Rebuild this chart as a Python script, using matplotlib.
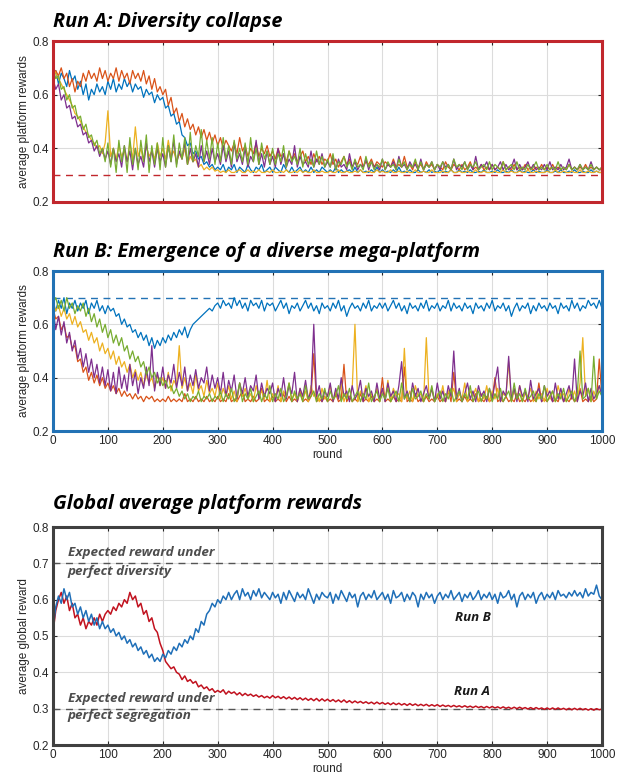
import matplotlib
matplotlib.use("Agg")
import matplotlib.pyplot as plt

# values sampled every 5 rounds (0, 5, ..., 1000)
STEP = 5

# ---------------- Run A (five platforms) ----------------
a_blue = [0.66, 0.69, 0.64, 0.68, 0.66, 0.63, 0.69, 0.65, 0.67, 0.62, 0.65, 0.60, 0.64, 0.58, 0.62, 0.60, 0.64, 0.61, 0.63, 0.60,
          0.65, 0.62, 0.66, 0.61, 0.64, 0.62, 0.66, 0.63, 0.65, 0.61, 0.64, 0.62, 0.63, 0.59, 0.62, 0.60, 0.61, 0.57, 0.60, 0.58,
          0.59, 0.55, 0.56, 0.52, 0.53, 0.49, 0.50, 0.45, 0.44, 0.41, 0.42, 0.38, 0.39, 0.36, 0.37, 0.34, 0.35, 0.33, 0.34, 0.32,
          0.33, 0.32, 0.34, 0.31, 0.33, 0.32, 0.34, 0.31, 0.33, 0.32, 0.31, 0.34, 0.32, 0.31, 0.33, 0.32, 0.34, 0.31, 0.32, 0.33,
          0.31, 0.33, 0.32, 0.31, 0.34, 0.32, 0.31, 0.33, 0.31, 0.32, 0.33, 0.31, 0.32, 0.31, 0.33, 0.31, 0.32, 0.31, 0.33, 0.32,
          0.31, 0.32, 0.31, 0.33, 0.31, 0.32, 0.31, 0.315, 0.32, 0.31, 0.33, 0.31, 0.32, 0.31, 0.315, 0.31, 0.32, 0.31, 0.33, 0.31,
          0.32, 0.31, 0.315, 0.31, 0.32, 0.31, 0.33, 0.31, 0.315, 0.31, 0.32, 0.31, 0.31, 0.32, 0.31, 0.315, 0.31, 0.32, 0.31, 0.315,
          0.31, 0.32, 0.31, 0.315, 0.31, 0.32, 0.31, 0.31, 0.32, 0.31, 0.315, 0.31, 0.32, 0.31, 0.31, 0.315, 0.31, 0.32, 0.31, 0.31,
          0.315, 0.31, 0.32, 0.31, 0.31, 0.315, 0.31, 0.32, 0.31, 0.31, 0.32, 0.31, 0.315, 0.31, 0.31, 0.32, 0.31, 0.315, 0.31, 0.31,
          0.32, 0.31, 0.31, 0.315, 0.31, 0.32, 0.31, 0.31, 0.315, 0.31, 0.32, 0.31, 0.31, 0.315, 0.31, 0.31, 0.32, 0.31, 0.315, 0.31,
          0.31]
a_orange = [0.66, 0.69, 0.67, 0.70, 0.66, 0.68, 0.63, 0.66, 0.61, 0.65, 0.63, 0.68, 0.65, 0.69, 0.66, 0.68, 0.65, 0.70, 0.66, 0.69,
            0.65, 0.68, 0.66, 0.70, 0.65, 0.69, 0.66, 0.68, 0.64, 0.69, 0.66, 0.68, 0.65, 0.69, 0.64, 0.67, 0.62, 0.66, 0.61, 0.63,
            0.60, 0.62, 0.56, 0.59, 0.53, 0.55, 0.50, 0.53, 0.48, 0.51, 0.47, 0.49, 0.45, 0.48, 0.44, 0.47, 0.43, 0.46, 0.42, 0.45,
            0.41, 0.44, 0.40, 0.43, 0.41, 0.39, 0.42, 0.38, 0.44, 0.39, 0.41, 0.37, 0.40, 0.38, 0.42, 0.37, 0.40, 0.38, 0.41, 0.37,
            0.39, 0.36, 0.40, 0.37, 0.38, 0.35, 0.39, 0.36, 0.38, 0.35, 0.37, 0.39, 0.35, 0.37, 0.34, 0.38, 0.35, 0.37, 0.34, 0.36,
            0.35, 0.38, 0.34, 0.36, 0.33, 0.35, 0.37, 0.34, 0.36, 0.33, 0.35, 0.34, 0.37, 0.33, 0.35, 0.34, 0.36, 0.33, 0.35, 0.34,
            0.33, 0.35, 0.34, 0.33, 0.36, 0.33, 0.34, 0.33, 0.37, 0.33, 0.34, 0.32, 0.35, 0.33, 0.34, 0.32, 0.35, 0.33, 0.34, 0.32,
            0.34, 0.33, 0.32, 0.35, 0.33, 0.32, 0.34, 0.33, 0.32, 0.34, 0.32, 0.33, 0.35, 0.32, 0.33, 0.32, 0.34, 0.32, 0.33, 0.32,
            0.34, 0.32, 0.33, 0.32, 0.35, 0.32, 0.33, 0.32, 0.34, 0.32, 0.33, 0.32, 0.34, 0.32, 0.33, 0.32, 0.33, 0.32, 0.34, 0.32,
            0.33, 0.32, 0.34, 0.32, 0.33, 0.32, 0.33, 0.32, 0.34, 0.32, 0.33, 0.32, 0.33, 0.32, 0.34, 0.32, 0.33, 0.32, 0.33, 0.32,
            0.32]
a_yellow = [0.70, 0.68, 0.66, 0.64, 0.62, 0.60, 0.58, 0.56, 0.53, 0.52, 0.50, 0.48, 0.46, 0.45, 0.43, 0.42, 0.40, 0.41, 0.38, 0.42,
            0.54, 0.37, 0.40, 0.36, 0.41, 0.37, 0.39, 0.35, 0.42, 0.36, 0.48, 0.37, 0.40, 0.35, 0.41, 0.37, 0.39, 0.36, 0.42, 0.37,
            0.40, 0.36, 0.43, 0.37, 0.39, 0.35, 0.38, 0.36, 0.40, 0.34, 0.37, 0.35, 0.36, 0.33, 0.34, 0.32, 0.33, 0.32, 0.33, 0.315,
            0.32, 0.31, 0.315, 0.31, 0.32, 0.31, 0.31, 0.315, 0.32, 0.31, 0.31, 0.32, 0.31, 0.315, 0.31, 0.32, 0.31, 0.31, 0.315, 0.31,
            0.32, 0.31, 0.31, 0.315, 0.31, 0.32, 0.31, 0.31, 0.315, 0.31, 0.32, 0.31, 0.315, 0.31, 0.31, 0.32, 0.31, 0.31, 0.315, 0.31,
            0.31, 0.315, 0.31, 0.31, 0.32, 0.31, 0.31, 0.315, 0.31, 0.31, 0.315, 0.31, 0.32, 0.31, 0.31, 0.315, 0.31, 0.31, 0.32, 0.31,
            0.315, 0.31, 0.31, 0.32, 0.31, 0.31, 0.315, 0.31, 0.31, 0.315, 0.31, 0.31, 0.32, 0.31, 0.31, 0.315, 0.31, 0.31, 0.32, 0.31,
            0.31, 0.31, 0.315, 0.31, 0.31, 0.32, 0.31, 0.31, 0.315, 0.31, 0.31, 0.315, 0.31, 0.31, 0.32, 0.31, 0.31, 0.315, 0.31, 0.31,
            0.31, 0.315, 0.31, 0.31, 0.32, 0.31, 0.31, 0.315, 0.31, 0.31, 0.315, 0.31, 0.31, 0.32, 0.31, 0.31, 0.315, 0.31, 0.31, 0.31,
            0.315, 0.31, 0.31, 0.32, 0.31, 0.31, 0.315, 0.31, 0.31, 0.315, 0.31, 0.31, 0.32, 0.31, 0.31, 0.315, 0.31, 0.31, 0.315, 0.31,
            0.31]
a_purple = [0.66, 0.62, 0.64, 0.58, 0.60, 0.55, 0.56, 0.51, 0.52, 0.48, 0.49, 0.45, 0.46, 0.42, 0.43, 0.39, 0.41, 0.37, 0.40, 0.36,
            0.39, 0.34, 0.40, 0.35, 0.38, 0.33, 0.41, 0.35, 0.39, 0.32, 0.40, 0.34, 0.37, 0.33, 0.42, 0.35, 0.39, 0.33, 0.40, 0.35,
            0.38, 0.33, 0.41, 0.35, 0.43, 0.34, 0.39, 0.36, 0.42, 0.34, 0.40, 0.35, 0.38, 0.33, 0.41, 0.35, 0.39, 0.34, 0.40, 0.35,
            0.38, 0.34, 0.41, 0.35, 0.39, 0.33, 0.42, 0.35, 0.38, 0.34, 0.40, 0.33, 0.37, 0.35, 0.43, 0.34, 0.38, 0.33, 0.39, 0.34,
            0.37, 0.33, 0.40, 0.34, 0.38, 0.33, 0.36, 0.34, 0.41, 0.33, 0.37, 0.34, 0.35, 0.33, 0.39, 0.33, 0.36, 0.34, 0.38, 0.33,
            0.35, 0.33, 0.37, 0.32, 0.36, 0.33, 0.34, 0.32, 0.38, 0.33, 0.35, 0.32, 0.34, 0.33, 0.36, 0.32, 0.35, 0.33, 0.34, 0.32,
            0.36, 0.32, 0.34, 0.33, 0.35, 0.32, 0.37, 0.33, 0.34, 0.32, 0.35, 0.33, 0.34, 0.32, 0.36, 0.32, 0.34, 0.33, 0.35, 0.32,
            0.34, 0.32, 0.35, 0.33, 0.34, 0.32, 0.36, 0.32, 0.34, 0.33, 0.35, 0.32, 0.34, 0.32, 0.37, 0.32, 0.34, 0.33, 0.35, 0.32,
            0.34, 0.32, 0.33, 0.35, 0.32, 0.34, 0.32, 0.33, 0.36, 0.32, 0.34, 0.32, 0.33, 0.35, 0.32, 0.34, 0.32, 0.33, 0.32, 0.34,
            0.32, 0.35, 0.32, 0.33, 0.32, 0.34, 0.32, 0.33, 0.36, 0.32, 0.33, 0.32, 0.34, 0.32, 0.33, 0.32, 0.35, 0.32, 0.33, 0.32,
            0.33]
a_green = [0.70, 0.66, 0.67, 0.62, 0.63, 0.58, 0.60, 0.55, 0.56, 0.51, 0.52, 0.47, 0.49, 0.44, 0.45, 0.41, 0.43, 0.38, 0.40, 0.35,
           0.42, 0.33, 0.40, 0.31, 0.43, 0.35, 0.41, 0.31, 0.44, 0.34, 0.40, 0.32, 0.43, 0.35, 0.45, 0.31, 0.41, 0.34, 0.42, 0.32,
           0.44, 0.33, 0.41, 0.35, 0.45, 0.33, 0.42, 0.36, 0.44, 0.34, 0.46, 0.35, 0.41, 0.37, 0.47, 0.35, 0.43, 0.36, 0.44, 0.34,
           0.42, 0.35, 0.44, 0.36, 0.41, 0.34, 0.43, 0.36, 0.40, 0.35, 0.42, 0.34, 0.44, 0.35, 0.40, 0.34, 0.42, 0.36, 0.39, 0.34,
           0.40, 0.34, 0.38, 0.35, 0.41, 0.33, 0.39, 0.35, 0.37, 0.34, 0.40, 0.33, 0.38, 0.34, 0.36, 0.33, 0.39, 0.34, 0.37, 0.33,
           0.36, 0.33, 0.38, 0.32, 0.35, 0.34, 0.37, 0.33, 0.35, 0.32, 0.36, 0.33, 0.34, 0.32, 0.37, 0.33, 0.35, 0.32, 0.34, 0.33,
           0.36, 0.32, 0.35, 0.33, 0.34, 0.32, 0.36, 0.33, 0.35, 0.32, 0.34, 0.33, 0.36, 0.32, 0.35, 0.32, 0.34, 0.33, 0.35, 0.32,
           0.34, 0.33, 0.35, 0.32, 0.34, 0.32, 0.36, 0.33, 0.34, 0.32, 0.35, 0.32, 0.34, 0.33, 0.35, 0.32, 0.33, 0.34, 0.32, 0.35,
           0.32, 0.34, 0.33, 0.32, 0.35, 0.32, 0.33, 0.34, 0.32, 0.35, 0.32, 0.33, 0.32, 0.34, 0.32, 0.33, 0.35, 0.32, 0.33, 0.32,
           0.34, 0.32, 0.33, 0.32, 0.35, 0.32, 0.33, 0.32, 0.34, 0.32, 0.33, 0.32, 0.34, 0.32, 0.33, 0.32, 0.34, 0.32, 0.33, 0.32,
           0.33]

# ---------------- Run B (five platforms) ----------------
b_blue = [0.68, 0.65, 0.69, 0.66, 0.70, 0.64, 0.68, 0.66, 0.69, 0.65, 0.68, 0.66, 0.69, 0.64, 0.68, 0.66, 0.69, 0.65, 0.67, 0.64,
          0.67, 0.65, 0.66, 0.63, 0.64, 0.60, 0.62, 0.59, 0.60, 0.57, 0.58, 0.55, 0.57, 0.54, 0.56, 0.52, 0.55, 0.51, 0.54, 0.52,
          0.55, 0.53, 0.56, 0.54, 0.57, 0.55, 0.58, 0.56, 0.59, 0.55, 0.58, 0.60, 0.61, 0.62, 0.63, 0.64, 0.65, 0.66, 0.65, 0.67,
          0.68, 0.66, 0.69, 0.67, 0.68, 0.66, 0.70, 0.67, 0.69, 0.66, 0.68, 0.65, 0.69, 0.67, 0.68, 0.66, 0.69, 0.65, 0.68, 0.67,
          0.68, 0.65, 0.67, 0.69, 0.66, 0.68, 0.64, 0.67, 0.66, 0.68, 0.65, 0.67, 0.69, 0.66, 0.68, 0.65, 0.67, 0.64, 0.68, 0.66,
          0.67, 0.65, 0.68, 0.66, 0.69, 0.65, 0.67, 0.63, 0.66, 0.68, 0.66, 0.67, 0.65, 0.68, 0.66, 0.69, 0.65, 0.67, 0.66, 0.68,
          0.66, 0.68, 0.65, 0.67, 0.69, 0.66, 0.68, 0.65, 0.67, 0.64, 0.68, 0.66, 0.67, 0.65, 0.68, 0.66, 0.69, 0.65, 0.67, 0.66,
          0.68, 0.65, 0.67, 0.66, 0.69, 0.65, 0.68, 0.66, 0.67, 0.65, 0.68, 0.66, 0.67, 0.64, 0.68, 0.66, 0.67, 0.65, 0.68, 0.66,
          0.69, 0.65, 0.67, 0.66, 0.68, 0.65, 0.67, 0.63, 0.66, 0.68, 0.65, 0.67, 0.66, 0.68, 0.64, 0.67, 0.65, 0.68, 0.66, 0.67,
          0.65, 0.68, 0.66, 0.67, 0.64, 0.68, 0.66, 0.67, 0.65, 0.69, 0.66, 0.68, 0.65, 0.67, 0.66, 0.69, 0.67, 0.68, 0.66, 0.69,
          0.66]
b_orange = [0.66, 0.62, 0.63, 0.58, 0.60, 0.55, 0.56, 0.51, 0.52, 0.46, 0.47, 0.42, 0.44, 0.39, 0.42, 0.38, 0.41, 0.37, 0.40, 0.36,
            0.38, 0.35, 0.37, 0.34, 0.36, 0.33, 0.35, 0.33, 0.34, 0.32, 0.34, 0.32, 0.33, 0.31, 0.33, 0.32, 0.33, 0.31, 0.32, 0.31,
            0.32, 0.31, 0.33, 0.31, 0.32, 0.31, 0.32, 0.31, 0.34, 0.31, 0.32, 0.31, 0.33, 0.31, 0.32, 0.31, 0.33, 0.31, 0.32, 0.31,
            0.33, 0.31, 0.32, 0.31, 0.34, 0.31, 0.32, 0.31, 0.33, 0.35, 0.31, 0.32, 0.31, 0.33, 0.31, 0.32, 0.36, 0.31, 0.32, 0.31,
            0.33, 0.31, 0.32, 0.31, 0.34, 0.31, 0.33, 0.31, 0.32, 0.31, 0.35, 0.31, 0.32, 0.31, 0.33, 0.49, 0.31, 0.32, 0.31, 0.33,
            0.31, 0.32, 0.31, 0.34, 0.31, 0.32, 0.45, 0.31, 0.33, 0.31, 0.32, 0.31, 0.34, 0.31, 0.32, 0.31, 0.33, 0.31, 0.32, 0.31,
            0.40, 0.31, 0.32, 0.31, 0.33, 0.31, 0.32, 0.31, 0.44, 0.31, 0.32, 0.31, 0.34, 0.31, 0.32, 0.31, 0.33, 0.31, 0.32, 0.31,
            0.33, 0.31, 0.32, 0.31, 0.35, 0.31, 0.42, 0.31, 0.32, 0.31, 0.33, 0.31, 0.32, 0.31, 0.34, 0.31, 0.32, 0.31, 0.33, 0.31,
            0.32, 0.40, 0.31, 0.32, 0.31, 0.33, 0.31, 0.32, 0.31, 0.34, 0.31, 0.32, 0.31, 0.33, 0.31, 0.32, 0.31, 0.38, 0.31, 0.32,
            0.31, 0.33, 0.31, 0.32, 0.31, 0.34, 0.31, 0.32, 0.31, 0.33, 0.31, 0.32, 0.36, 0.31, 0.32, 0.31, 0.33, 0.31, 0.32, 0.47,
            0.32]
b_yellow = [0.69, 0.65, 0.67, 0.63, 0.66, 0.62, 0.64, 0.60, 0.63, 0.59, 0.61, 0.57, 0.58, 0.54, 0.57, 0.53, 0.55, 0.50, 0.53, 0.49,
            0.51, 0.47, 0.50, 0.45, 0.48, 0.44, 0.46, 0.42, 0.45, 0.40, 0.43, 0.39, 0.42, 0.37, 0.41, 0.38, 0.40, 0.36, 0.41, 0.37,
            0.40, 0.36, 0.42, 0.35, 0.39, 0.37, 0.52, 0.36, 0.40, 0.35, 0.38, 0.34, 0.41, 0.35, 0.37, 0.33, 0.39, 0.34, 0.36, 0.33,
            0.38, 0.32, 0.36, 0.33, 0.37, 0.32, 0.35, 0.31, 0.38, 0.33, 0.36, 0.32, 0.34, 0.31, 0.37, 0.33, 0.35, 0.32, 0.39, 0.31,
            0.34, 0.32, 0.37, 0.31, 0.35, 0.33, 0.38, 0.32, 0.34, 0.31, 0.36, 0.32, 0.35, 0.31, 0.37, 0.33, 0.34, 0.31, 0.36, 0.32,
            0.33, 0.37, 0.31, 0.35, 0.32, 0.38, 0.31, 0.34, 0.32, 0.36, 0.60, 0.31, 0.35, 0.33, 0.37, 0.31, 0.34, 0.32, 0.36, 0.31,
            0.35, 0.32, 0.39, 0.31, 0.36, 0.33, 0.34, 0.31, 0.51, 0.32, 0.35, 0.31, 0.37, 0.33, 0.34, 0.31, 0.55, 0.32, 0.36, 0.31,
            0.34, 0.32, 0.37, 0.31, 0.35, 0.33, 0.36, 0.31, 0.34, 0.32, 0.38, 0.31, 0.35, 0.33, 0.36, 0.31, 0.34, 0.32, 0.37, 0.31,
            0.35, 0.32, 0.36, 0.31, 0.34, 0.33, 0.46, 0.31, 0.35, 0.32, 0.37, 0.31, 0.34, 0.33, 0.36, 0.31, 0.35, 0.32, 0.34, 0.31,
            0.36, 0.32, 0.35, 0.31, 0.37, 0.33, 0.34, 0.31, 0.36, 0.32, 0.35, 0.31, 0.38, 0.55, 0.33, 0.36, 0.31, 0.35, 0.32, 0.37,
            0.34]
b_purple = [0.66, 0.58, 0.63, 0.56, 0.61, 0.53, 0.57, 0.50, 0.54, 0.47, 0.51, 0.44, 0.49, 0.42, 0.47, 0.40, 0.45, 0.38, 0.44, 0.37,
            0.43, 0.35, 0.42, 0.34, 0.44, 0.36, 0.41, 0.35, 0.45, 0.37, 0.42, 0.34, 0.40, 0.36, 0.44, 0.37, 0.52, 0.35, 0.42, 0.37,
            0.44, 0.36, 0.41, 0.38, 0.45, 0.36, 0.42, 0.37, 0.44, 0.35, 0.41, 0.37, 0.43, 0.36, 0.40, 0.38, 0.44, 0.35, 0.41, 0.36,
            0.40, 0.34, 0.42, 0.33, 0.39, 0.35, 0.41, 0.32, 0.38, 0.34, 0.40, 0.33, 0.37, 0.35, 0.41, 0.32, 0.38, 0.33, 0.36, 0.34,
            0.38, 0.31, 0.36, 0.33, 0.40, 0.32, 0.37, 0.34, 0.42, 0.31, 0.36, 0.33, 0.39, 0.32, 0.35, 0.60, 0.33, 0.37, 0.31, 0.35,
            0.33, 0.38, 0.31, 0.36, 0.32, 0.40, 0.33, 0.35, 0.31, 0.37, 0.32, 0.34, 0.39, 0.31, 0.36, 0.33, 0.35, 0.31, 0.38, 0.32,
            0.36, 0.31, 0.38, 0.33, 0.35, 0.31, 0.37, 0.46, 0.32, 0.35, 0.31, 0.38, 0.33, 0.36, 0.31, 0.34, 0.37, 0.32, 0.36, 0.31,
            0.38, 0.32, 0.35, 0.31, 0.37, 0.33, 0.50, 0.32, 0.36, 0.31, 0.34, 0.38, 0.32, 0.35, 0.31, 0.37, 0.33, 0.35, 0.31, 0.36,
            0.32, 0.38, 0.44, 0.31, 0.35, 0.33, 0.48, 0.32, 0.36, 0.31, 0.37, 0.33, 0.35, 0.31, 0.39, 0.32, 0.34, 0.36, 0.31, 0.37,
            0.33, 0.35, 0.31, 0.38, 0.32, 0.36, 0.31, 0.34, 0.37, 0.32, 0.47, 0.31, 0.35, 0.33, 0.38, 0.31, 0.36, 0.32, 0.34, 0.37,
            0.33]
b_green = [0.68, 0.70, 0.66, 0.69, 0.65, 0.70, 0.66, 0.68, 0.64, 0.67, 0.65, 0.68, 0.63, 0.66, 0.61, 0.64, 0.59, 0.62, 0.57, 0.60,
           0.55, 0.58, 0.53, 0.56, 0.52, 0.55, 0.50, 0.52, 0.47, 0.50, 0.46, 0.48, 0.44, 0.46, 0.41, 0.44, 0.40, 0.42, 0.38, 0.40,
           0.37, 0.39, 0.36, 0.37, 0.34, 0.36, 0.33, 0.35, 0.32, 0.34, 0.31, 0.33, 0.32, 0.35, 0.31, 0.33, 0.32, 0.34, 0.31, 0.33,
           0.32, 0.35, 0.31, 0.34, 0.32, 0.36, 0.31, 0.33, 0.38, 0.31, 0.34, 0.32, 0.36, 0.31, 0.33, 0.35, 0.31, 0.34, 0.32, 0.37,
           0.31, 0.34, 0.32, 0.36, 0.31, 0.33, 0.38, 0.31, 0.35, 0.32, 0.34, 0.31, 0.37, 0.32, 0.33, 0.35, 0.31, 0.34, 0.32, 0.36,
           0.31, 0.35, 0.32, 0.33, 0.37, 0.31, 0.34, 0.32, 0.36, 0.31, 0.33, 0.35, 0.31, 0.34, 0.32, 0.38, 0.31, 0.33, 0.35, 0.31,
           0.34, 0.32, 0.36, 0.31, 0.33, 0.35, 0.31, 0.38, 0.32, 0.34, 0.31, 0.36, 0.32, 0.33, 0.35, 0.31, 0.34, 0.32, 0.37, 0.31,
           0.33, 0.35, 0.31, 0.34, 0.32, 0.36, 0.31, 0.33, 0.35, 0.31, 0.34, 0.32, 0.37, 0.31, 0.33, 0.35, 0.31, 0.34, 0.32, 0.36,
           0.31, 0.34, 0.32, 0.36, 0.31, 0.33, 0.35, 0.31, 0.38, 0.32, 0.34, 0.31, 0.36, 0.32, 0.33, 0.35, 0.31, 0.34, 0.32, 0.37,
           0.31, 0.33, 0.35, 0.31, 0.34, 0.32, 0.36, 0.31, 0.33, 0.35, 0.31, 0.34, 0.50, 0.32, 0.33, 0.36, 0.31, 0.48, 0.32, 0.35,
           0.33]

# ---------------- Global averages ----------------
g_run_a = [0.51, 0.57, 0.60, 0.62, 0.59, 0.61, 0.57, 0.59, 0.55, 0.56, 0.53, 0.55, 0.52, 0.54, 0.53, 0.55, 0.53, 0.56, 0.54, 0.56,
           0.57, 0.56, 0.58, 0.57, 0.59, 0.58, 0.60, 0.59, 0.62, 0.60, 0.61, 0.58, 0.59, 0.56, 0.57, 0.54, 0.55, 0.52, 0.51, 0.48,
           0.46, 0.43, 0.42, 0.41, 0.415, 0.40, 0.395, 0.38, 0.39, 0.375, 0.38, 0.37, 0.375, 0.36, 0.365, 0.355, 0.36, 0.35, 0.355, 0.345,
           0.35, 0.345, 0.352, 0.34, 0.348, 0.342, 0.346, 0.338, 0.344, 0.336, 0.342, 0.336, 0.34, 0.334, 0.338, 0.332, 0.336, 0.33, 0.334, 0.329,
           0.336, 0.330, 0.334, 0.328, 0.333, 0.327, 0.332, 0.326, 0.331, 0.325, 0.330, 0.324, 0.329, 0.323, 0.328, 0.322, 0.328, 0.321, 0.327, 0.321,
           0.326, 0.320, 0.325, 0.319, 0.324, 0.318, 0.324, 0.317, 0.322, 0.316, 0.321, 0.316, 0.320, 0.315, 0.319, 0.314, 0.318, 0.313, 0.318, 0.313,
           0.317, 0.312, 0.316, 0.311, 0.316, 0.311, 0.315, 0.310, 0.314, 0.309, 0.314, 0.309, 0.313, 0.308, 0.312, 0.308, 0.312, 0.307, 0.311, 0.307,
           0.311, 0.306, 0.310, 0.306, 0.309, 0.305, 0.309, 0.305, 0.308, 0.304, 0.308, 0.304, 0.307, 0.303, 0.307, 0.303, 0.306, 0.302, 0.306, 0.302,
           0.306, 0.302, 0.305, 0.301, 0.305, 0.301, 0.304, 0.300, 0.304, 0.300, 0.304, 0.300, 0.303, 0.299, 0.303, 0.299, 0.303, 0.299, 0.302, 0.298,
           0.302, 0.298, 0.302, 0.298, 0.302, 0.298, 0.301, 0.297, 0.301, 0.297, 0.301, 0.297, 0.301, 0.297, 0.300, 0.296, 0.300, 0.296, 0.300, 0.297,
           0.299]
g_run_b = [0.52, 0.58, 0.61, 0.59, 0.63, 0.60, 0.62, 0.58, 0.59, 0.56, 0.58, 0.55, 0.57, 0.54, 0.56, 0.53, 0.55, 0.52, 0.54, 0.52,
           0.53, 0.51, 0.52, 0.50, 0.51, 0.49, 0.50, 0.48, 0.49, 0.47, 0.48, 0.46, 0.47, 0.45, 0.46, 0.44, 0.45, 0.43, 0.44, 0.43,
           0.45, 0.44, 0.46, 0.45, 0.47, 0.46, 0.48, 0.47, 0.49, 0.48, 0.50, 0.49, 0.52, 0.51, 0.54, 0.53, 0.56, 0.57, 0.59, 0.58,
           0.60, 0.59, 0.61, 0.60, 0.62, 0.60, 0.615, 0.625, 0.60, 0.63, 0.61, 0.62, 0.60, 0.625, 0.61, 0.63, 0.605, 0.62, 0.61, 0.60,
           0.62, 0.605, 0.615, 0.59, 0.62, 0.60, 0.625, 0.61, 0.595, 0.62, 0.605, 0.615, 0.60, 0.63, 0.61, 0.59, 0.615, 0.60, 0.62, 0.61,
           0.605, 0.62, 0.59, 0.615, 0.60, 0.625, 0.61, 0.595, 0.62, 0.605, 0.615, 0.58, 0.61, 0.62, 0.60, 0.615, 0.605, 0.625, 0.60, 0.61,
           0.62, 0.60, 0.615, 0.59, 0.625, 0.605, 0.61, 0.62, 0.595, 0.615, 0.60, 0.62, 0.61, 0.58, 0.615, 0.60, 0.62, 0.605, 0.615, 0.59,
           0.61, 0.62, 0.60, 0.615, 0.605, 0.625, 0.60, 0.61, 0.62, 0.595, 0.615, 0.605, 0.62, 0.60, 0.61, 0.625, 0.60, 0.615, 0.605, 0.62,
           0.60, 0.615, 0.59, 0.62, 0.605, 0.61, 0.625, 0.60, 0.615, 0.58, 0.61, 0.62, 0.60, 0.615, 0.605, 0.62, 0.59, 0.61, 0.62, 0.60,
           0.615, 0.605, 0.62, 0.60, 0.625, 0.61, 0.615, 0.605, 0.62, 0.61, 0.625, 0.61, 0.62, 0.605, 0.63, 0.61, 0.62, 0.615, 0.64, 0.61,
           0.60]

matlab_colors = ["#0072BD", "#D95319", "#EDB120", "#7E2F8E", "#77AC30"]
run_a_series = [a_blue, a_orange, a_yellow, a_purple, a_green]
run_b_series = [b_blue, b_orange, b_yellow, b_purple, b_green]


def rounds_for(ys):
    return [STEP * i for i in range(len(ys))]


plt.rcParams['font.family'] = ['Liberation Sans', 'DejaVu Sans']
TITLE_FONT = ['Open Sans', 'DejaVu Sans']

W, H = 628, 780
fig = plt.figure(figsize=(W / 100, H / 100), dpi=100)


def px_axes(left, top, right, bottom):
    return fig.add_axes([left / W, 1 - bottom / H, (right - left) / W, (bottom - top) / H])


def style(ax, frame_color, show_xlabels):
    ax.set_xlim(0, 1000)
    ax.set_ylim(0.2, 0.8)
    ax.set_xticks(range(0, 1001, 100))
    ax.grid(True, color="#dcdcdc", linewidth=0.8)
    ax.set_axisbelow(True)
    ax.tick_params(direction="in", top=True, right=True, length=3, width=0.8,
                   color="#262626", labelsize=8.5, labelcolor="#262626", pad=3)
    for s in ax.spines.values():
        s.set_color(frame_color)
        s.set_linewidth(2.2)
    if not show_xlabels:
        ax.set_xticklabels([])


title_kw = dict(fontsize=14.3, fontweight="bold", fontstyle="italic", family=TITLE_FONT,
                ha="left", va="baseline")

# Panel A
axA = px_axes(53, 41, 602, 202)
axA.axhline(0.3, color="#C1272D", linestyle=(0, (5, 4)), linewidth=1.0)
for ys, c in zip(run_a_series, matlab_colors):
    axA.plot(rounds_for(ys), ys, color=c, linewidth=0.9)
style(axA, "#C1272D", False)
axA.set_yticks([0.2, 0.4, 0.6, 0.8])
axA.set_ylabel("average platform rewards", fontsize=8.5, color="#262626", labelpad=2)
fig.text(53 / W, 1 - 27 / H, "Run A: Diversity collapse", **title_kw)

# Panel B
axB = px_axes(53, 271, 602, 431)
axB.axhline(0.7, color="#2272B5", linestyle=(0, (5, 4)), linewidth=1.0)
for ys, c in zip(run_b_series, matlab_colors):
    axB.plot(rounds_for(ys), ys, color=c, linewidth=0.9)
style(axB, "#2272B5", True)
axB.set_yticks([0.2, 0.4, 0.6, 0.8])
axB.set_ylabel("average platform rewards", fontsize=8.5, color="#262626", labelpad=2)
axB.set_xlabel("round", fontsize=8.5, color="#262626", labelpad=1)
fig.text(53 / W, 1 - 257 / H, "Run B: Emergence of a diverse mega-platform", **title_kw)

# Panel C
axC = px_axes(53, 527, 602, 745)
axC.axhline(0.7, color="#555555", linestyle=(0, (5, 4)), linewidth=1.0)
axC.axhline(0.3, color="#555555", linestyle=(0, (5, 4)), linewidth=1.0)
axC.plot(rounds_for(g_run_a), g_run_a, color="#C1121F", linewidth=1.1)
axC.plot(rounds_for(g_run_b), g_run_b, color="#1F6FB8", linewidth=1.1)
style(axC, "#404040", True)
axC.set_yticks([0.2, 0.3, 0.4, 0.5, 0.6, 0.7, 0.8])
axC.set_ylabel("average global reward", fontsize=8.5, color="#262626", labelpad=2)
axC.set_xlabel("round", fontsize=8.5, color="#262626", labelpad=1)
fig.text(53 / W, 1 - 509 / H, "Global average platform rewards", **title_kw)

note_kw = dict(fontsize=9.7, fontweight="bold", fontstyle="italic", family=TITLE_FONT,
               color="#4d4d4d", ha="left", va="center")
axC.text(27, 0.730, "Expected reward under", **note_kw)
axC.text(27, 0.678, "perfect diversity", **note_kw)
axC.text(27, 0.327, "Expected reward under", **note_kw)
axC.text(27, 0.280, "perfect segregation", **note_kw)
run_kw = dict(fontsize=9.5, fontweight="bold", fontstyle="italic", family=TITLE_FONT,
              color="#1a1a1a", ha="center", va="center")
axC.text(765, 0.552, "Run B", **run_kw)
axC.text(763, 0.346, "Run A", **run_kw)

fig.savefig("out.png", dpi=100)
